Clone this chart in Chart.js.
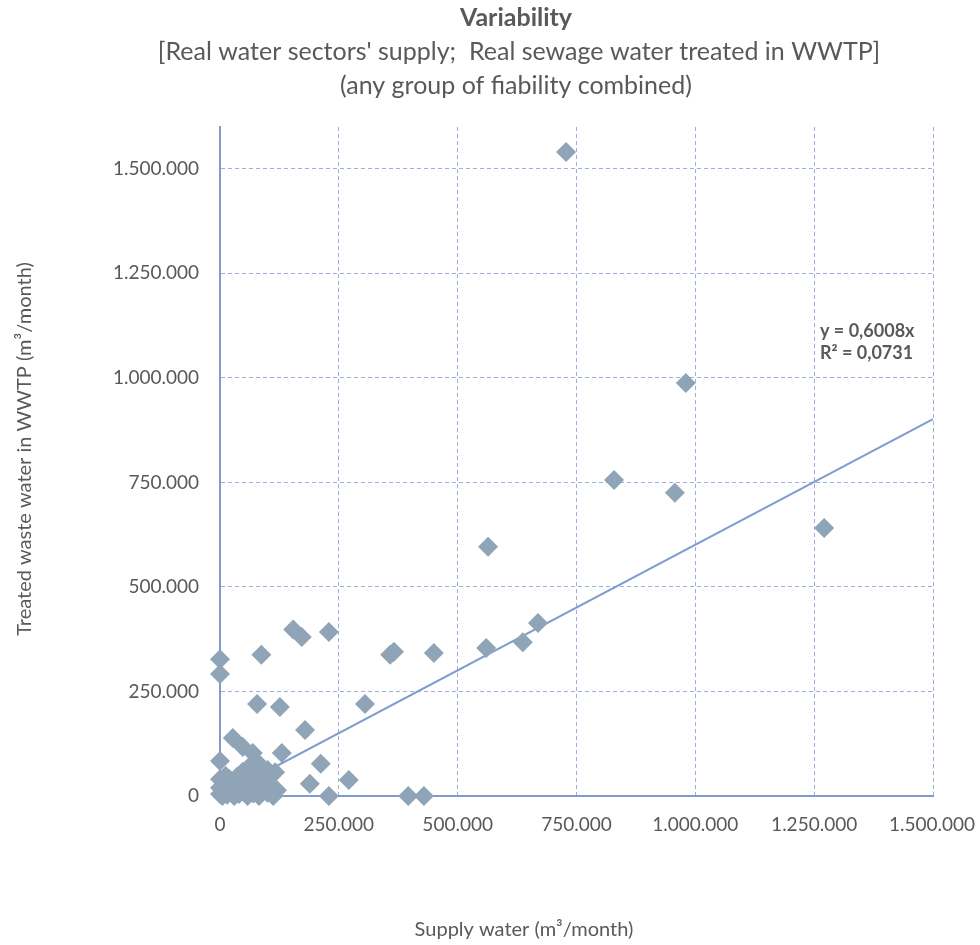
<!DOCTYPE html>
<html>
<head>
<meta charset="utf-8">
<script src="https://cdn.jsdelivr.net/npm/chart.js@4/dist/chart.umd.min.js"></script>
<style>
  html, body { margin: 0; padding: 0; background: #fff; }
  #wrap { width: 980px; height: 945px; }
</style>
</head>
<body>
<div id="wrap"><canvas id="chart" width="980" height="945"></canvas></div>
<script>
// Supply water vs treated waste water (m3/month)
const supplyX = [
  728000, 980000, 829000, 957000, 1271000, 564000, 669000, 637000, 560000, 450000,
  358000, 366000, 154000, 172000, 229000, 87000, 0, 0, 78000, 126000,
  305000, 179000, 212000, 271000, 189000, 229000, 396000, 429000,
  27000, 48000, 69000, 130000, 0, 116000, 120000, 42000, 80000,
  0, 0, 0, 5000, 8000, 10000, 12000, 15000, 18000, 20000,
  24000, 28000, 30000, 33000, 36000, 40000, 44000, 48000, 52000, 55000,
  58000, 62000, 66000, 70000, 74000, 78000, 82000, 86000, 90000, 95000,
  100000, 106000, 112000, 60000, 100000
];
const treatedY = [
  1540000, 988000, 756000, 725000, 641000, 596000, 414000, 368000, 354000, 342000,
  338000, 345000, 398000, 380000, 392000, 338000, 327000, 292000, 220000, 213000,
  220000, 158000, 77000, 38000, 29000, 0, 0, 0,
  139000, 117000, 103000, 103000, 84000, 57000, 14000, 38000, 79000,
  5000, 20000, 40000, 0, 12000, 30000, 48000, 3000, 22000, 40000,
  8000, 28000, 0, 16000, 46000, 5000, 25000, 58000, 12000, 35000,
  0, 50000, 20000, 6000, 40000, 28000, 0, 15000, 55000, 30000,
  8000, 22000, 0, 68000, 62000
];
const xTicks = [0, 250000, 500000, 750000, 1000000, 1250000, 1500000];
const yTicks = [0, 250000, 500000, 750000, 1000000, 1250000, 1500000];
const trendSlope = 0.6008;
const trendR2 = 0.0731;

const titleText = 'Variability';
const subtitleText = ["[Real water sectors' supply;  Real sewage water treated in WWTP]", '(any group of fiability combined)'];
const xTitle = 'Supply water (m\u00B3/month)';
const yTitle = 'Treated waste water in WWTP (m\u00B3/month)';

const points = supplyX.map((x, i) => ({ x: x, y: treatedY[i] }));
const trendXs = [0, xTicks[xTicks.length - 1]];
const trendPoints = trendXs.map(x => ({ x: x, y: x * trendSlope }));

const fmt = v => Math.round(v).toString().replace(/\B(?=(\d{3})+(?!\d))/g, '.');
const textGray = '#595959';
const gridBlue = '#9bb0dc';
const axisBlue = '#7f9bd0';
const FONT = 'Lato, "Open Sans", sans-serif';

// keep the last x label inside the canvas, like Excel does
const lastLabelFit = {
  id: 'lastLabelFit',
  beforeDraw(chart) {
    const items = chart.scales.x.getLabelItems();
    const last = items[items.length - 1];
    if (last) {
      last.options.textAlign = 'right';
      last.options.translation = [chart.width - 5, last.options.translation[1]];
    }
  }
};

// titles, axis titles and trendline equation
const extraText = {
  id: 'extraText',
  afterDraw(chart) {
    const ctx = chart.ctx;
    const area = chart.chartArea;
    ctx.save();
    ctx.fillStyle = textGray;
    ctx.textBaseline = 'middle';
    ctx.textAlign = 'center';

    ctx.font = 'bold 25px ' + FONT;
    ctx.fillText(titleText, 516, 18);
    ctx.font = '25px ' + FONT;
    ctx.fillText(subtitleText[0], 519, 52);
    ctx.fillText(subtitleText[1], 516, 86);

    ctx.font = '20px ' + FONT;
    ctx.fillText(xTitle, 524, 930);
    ctx.save();
    ctx.translate(25, 449);
    ctx.rotate(-Math.PI / 2);
    ctx.fillText(yTitle, 0, 0);
    ctx.restore();

    ctx.font = 'bold 18px ' + FONT;
    ctx.textAlign = 'left';
    const x0 = area.right - 113;
    ctx.fillText('y = ' + trendSlope.toFixed(4).replace('.', ',') + 'x', x0, 331);
    ctx.fillText('R\u00B2 = ' + trendR2.toFixed(4).replace('.', ','), x0, 353);
    ctx.restore();
  }
};

new Chart(document.getElementById('chart'), {
  type: 'scatter',
  data: {
    datasets: [
      {
        label: 'Trend',
        type: 'line',
        data: trendPoints,
        borderColor: axisBlue,
        borderWidth: 2,
        pointRadius: 0,
        fill: false,
        order: 2
      },
      {
        label: 'Variability',
        data: points,
        pointStyle: 'rectRot',
        pointRadius: 10,
        pointHoverRadius: 10,
        backgroundColor: '#8fa4b6',
        borderColor: '#8fa4b6',
        borderWidth: 0,
        clip: false,
        order: 1
      }
    ]
  },
  options: {
    responsive: false,
    animation: false,
    layout: { padding: { left: 0, right: 47, top: 127, bottom: 0 } },
    plugins: {
      legend: { display: false },
      tooltip: { enabled: false },
      title: { display: false },
      subtitle: { display: false }
    },
    scales: {
      x: {
        type: 'linear',
        min: 0,
        max: 1500000,
        bounds: 'data',
        afterBuildTicks: s => { s.ticks = xTicks.map(v => ({ value: v })); },
        afterFit: s => { s.height = 149; s.paddingLeft = 0; s.paddingRight = 0; },
        ticks: {
          color: textGray,
          font: { family: FONT, size: 19 },
          padding: 17,
          maxRotation: 0,
          callback: v => fmt(v)
        },
        grid: { color: gridBlue, lineWidth: 1, drawTicks: false },
        border: { color: axisBlue, width: 2, dash: [4, 3] }
      },
      y: {
        type: 'linear',
        min: 0,
        max: 1600000,
        bounds: 'data',
        afterBuildTicks: s => { s.ticks = yTicks.map(v => ({ value: v })); },
        afterFit: s => { s.width = 220; s.paddingTop = 0; s.paddingBottom = 0; },
        ticks: {
          color: textGray,
          font: { family: FONT, size: 19 },
          padding: 21,
          callback: v => fmt(v)
        },
        grid: { color: gridBlue, lineWidth: 1, drawTicks: false },
        border: { color: axisBlue, width: 2, dash: [4, 3] }
      }
    }
  },
  plugins: [lastLabelFit, extraText]
});
</script>
</body>
</html>
